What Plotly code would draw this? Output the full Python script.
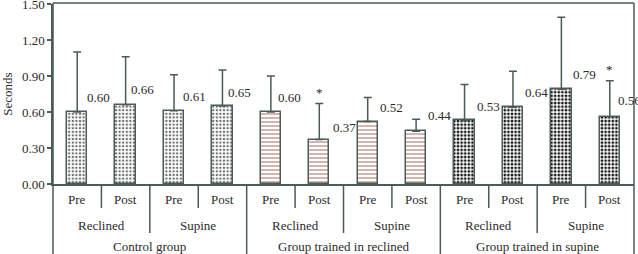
import plotly.graph_objects as go

# ---- data ----
groups = ["Control group", "Group trained in reclined", "Group trained in supine"]
positions = ["Reclined", "Supine"]
phases = ["Pre", "Post"]
means = [0.60, 0.66, 0.61, 0.65, 0.60, 0.37, 0.52, 0.44, 0.53, 0.64, 0.79, 0.56]
sds = [0.50, 0.40, 0.30, 0.30, 0.30, 0.30, 0.20, 0.10, 0.30, 0.30, 0.60, 0.30]
significant = [False, False, False, False, False, True, False, False, False, False, False, True]
ytick_vals = [0.0, 0.3, 0.6, 0.9, 1.2, 1.5]

# ---- label placement (style) ----
label_y = [0.725, 0.79, 0.73, 0.76, 0.72, 0.47, 0.64, 0.57, 0.65, 0.76, 0.91, 0.70]
label_dx = [8, 3, 7, 4, 5, 12, 10, 10, 10, 10, 10, 6]

AX = "#4a5c57"
TXT = "#2b2b2b"
FONT = "Times New Roman, Liberation Serif, DejaVu Serif, serif"

group_styles = [
    dict(shape=".", fgcolor="#6a6a6a", size=3.6, solidity=0.35),
    dict(shape="-", fgcolor="#b07a70", size=4, solidity=0.28),
    dict(shape=".", fgcolor="#111111", size=3.6, solidity=0.45),
]

fig = go.Figure()
n_per_group = len(positions) * len(phases)
for g, gname in enumerate(groups):
    idx = list(range(g * n_per_group, (g + 1) * n_per_group))
    st = group_styles[g]
    fig.add_trace(go.Bar(
        x=idx,
        y=[means[i] for i in idx],
        width=0.42,
        name=gname,
        marker=dict(
            color="white",
            line=dict(color=AX, width=1.5),
            pattern=dict(shape=st["shape"], fgcolor=st["fgcolor"], bgcolor="white",
                         size=st["size"], solidity=st["solidity"], fillmode="replace"),
        ),
        error_y=dict(type="data", symmetric=False, array=[sds[i] for i in idx],
                     arrayminus=[0] * len(idx), color=AX, thickness=1.5, width=4),
        showlegend=False,
    ))

annotations = []
for i, m in enumerate(means):
    annotations.append(dict(x=i, y=label_y[i], xref="x", yref="y", text=f"{m:.2f}",
                            showarrow=False, xanchor="left", yanchor="middle",
                            xshift=label_dx[i], font=dict(family=FONT, size=13, color=TXT)))
    if significant[i]:
        annotations.append(dict(x=i, y=m + sds[i], xref="x", yref="y", text="*",
                                showarrow=False, xanchor="center", yanchor="bottom",
                                yshift=2, font=dict(family=FONT, size=13, color=TXT)))

# bottom table
H = 180.0
def py(pix):
    return -(pix - 184) / H

shapes = []
n = len(means)
for b in range(1, n):
    if b % 4 == 0:
        y1 = py(256)
    elif b % 2 == 0:
        y1 = py(233)
    else:
        y1 = py(208)
    shapes.append(dict(type="line", xref="x", yref="paper", x0=b - 0.5, x1=b - 0.5,
                       y0=0, y1=y1, line=dict(color=AX, width=1.5)))
# frame
shapes.append(dict(type="line", xref="paper", yref="paper", x0=0, x1=0, y0=1.005, y1=py(256),
                   line=dict(color=AX, width=1.5)))
shapes.append(dict(type="line", xref="paper", yref="paper", x0=1, x1=1, y0=1.005, y1=py(256),
                   line=dict(color=AX, width=1.5)))
shapes.append(dict(type="line", xref="paper", yref="paper", x0=0, x1=1, y0=1.005, y1=1.005,
                   line=dict(color=AX, width=1.5)))

tfont = dict(family=FONT, size=13, color=TXT)
for i in range(n):
    annotations.append(dict(x=i, y=py(200), xref="x", yref="paper", text=phases[i % 2],
                            showarrow=False, xanchor="center", yanchor="middle", font=tfont))
for j in range(n // 2):
    annotations.append(dict(x=2 * j + 0.5, y=py(225), xref="x", yref="paper",
                            text=positions[j % 2], showarrow=False,
                            xanchor="center", yanchor="middle", font=tfont))
for g, gname in enumerate(groups):
    annotations.append(dict(x=4 * g + 1.5, y=py(246), xref="x", yref="paper", text=gname,
                            showarrow=False, xanchor="center", yanchor="middle", font=tfont))

fig.update_layout(
    width=638, height=254,
    margin=dict(l=53, r=4, t=4, b=70),
    plot_bgcolor="white", paper_bgcolor="white",
    bargap=0,
    annotations=annotations,
    shapes=shapes,
    font=dict(family=FONT, size=13, color=TXT),
)
fig.update_xaxes(range=[-0.5, n - 0.5], showticklabels=False, ticks="", showgrid=False,
                 zeroline=False, showline=True, linecolor=AX, linewidth=1.5, automargin=False)
fig.update_yaxes(range=[0, 1.5], tickvals=ytick_vals, tickformat=".2f", showgrid=False,
                 zeroline=False, showline=True, linecolor=AX, linewidth=1.5,
                 ticks="outside", ticklen=4, tickcolor=AX, tickwidth=1.5,
                 ticklabeloverflow="allow", automargin=False,
                 tickfont=dict(family=FONT, size=13, color=TXT),
                 title=dict(text="Seconds", font=dict(family=FONT, size=13, color=TXT), standoff=8))

fig.write_html("out.html")
